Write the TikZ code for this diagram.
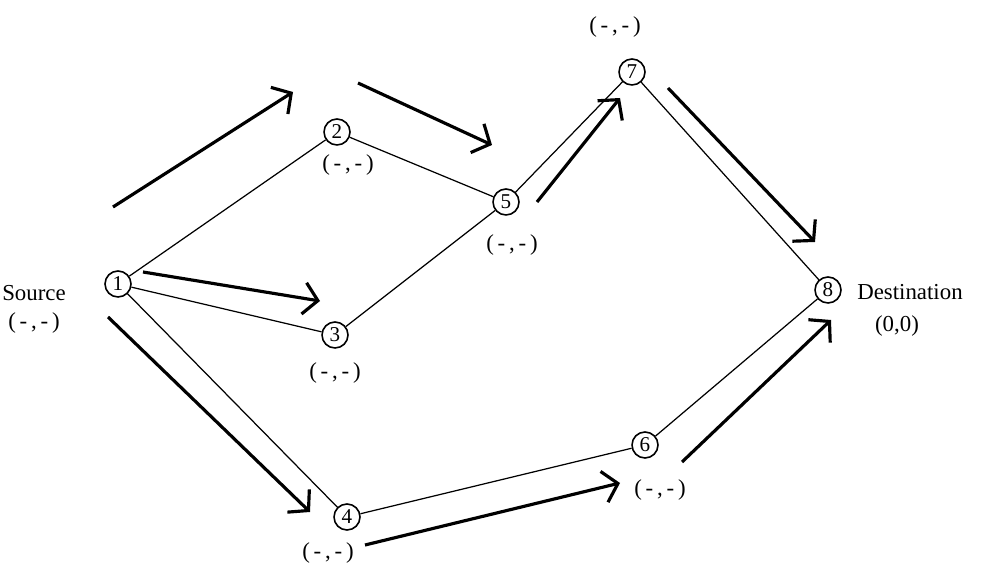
\documentclass[tikz,border=0pt]{standalone}
\usepackage{fontspec}
\setmainfont{Liberation Serif}
\usetikzlibrary{arrows.meta}

\begin{document}
\begin{tikzpicture}[
  x=0.02cm, y=-0.02cm,
  vertex/.style={circle, draw, line width=0.9pt, minimum size=0.52cm, inner sep=0pt, font=\fontsize{12}{13}\selectfont},
  tag/.style={font=\fontsize{13}{14}\selectfont, inner sep=1pt},
  link/.style={line width=0.7pt},
  flow/.style={line width=1.8pt, -{Straight Barb[length=8pt, width=18pt, line width=1.8pt]}}
]
\useasboundingbox (0,0) rectangle (983,573);

% vertices
\node[vertex] (n1) at (118,284) {1};
\node[vertex] (n2) at (337,132) {2};
\node[vertex] (n3) at (335,335) {3};
\node[vertex] (n4) at (347,517) {4};
\node[vertex] (n5) at (506,202) {5};
\node[vertex] (n6) at (645,445) {6};
\node[vertex] (n7) at (632,72) {7};
\node[vertex] (n8) at (828,290) {8};

% labels
\node[tag] (src) at (34,293) {Source};
\node[tag] (l1) at (34,323) {(\,-\,,\,-\,)};
\node[tag] (l2) at (348,165) {(\,-\,,\,-\,)};
\node[tag] (l3) at (335,373) {(\,-\,,\,-\,)};
\node[tag] (l4) at (328,553) {(\,-\,,\,-\,)};
\node[tag] (l5) at (512,245) {(\,-\,,\,-\,)};
\node[tag] (l6) at (660,490) {(\,-\,,\,-\,)};
\node[tag] (l7) at (615,27) {(\,-\,,\,-\,)};
\node[tag] (dst) at (910,292) {Destination};
\node[tag] (l8) at (897,326) {(0,0)};

% links
\draw[link] (n1) -- (n2);
\draw[link] (n1) -- (n3);
\draw[link] (n1) -- (n4);
\draw[link] (n2) -- (n5);
\draw[link] (n3) -- (n5);
\draw[link] (n5) -- (n7);
\draw[link] (n7) -- (n8);
\draw[link] (n4) -- (n6);
\draw[link] (n6) -- (n8);

% flow arrows
\coordinate (a1s) at (113,207);  \coordinate (a1e) at (293,92);
\coordinate (a2s) at (358,83);   \coordinate (a2e) at (492,145);
\coordinate (a3s) at (143,272);  \coordinate (a3e) at (320,301);
\coordinate (a4s) at (108,317);  \coordinate (a4e) at (310,512);
\coordinate (a5s) at (365,545);  \coordinate (a5e) at (620,483);
\coordinate (a6s) at (537,202);  \coordinate (a6e) at (620,98);
\coordinate (a7s) at (668,88);   \coordinate (a7e) at (815,242);
\coordinate (a8s) at (682,462);  \coordinate (a8e) at (831,320);
\foreach \i in {1,...,8}
  \draw[flow] (a\i s) -- (a\i e);
\end{tikzpicture}
\end{document}
